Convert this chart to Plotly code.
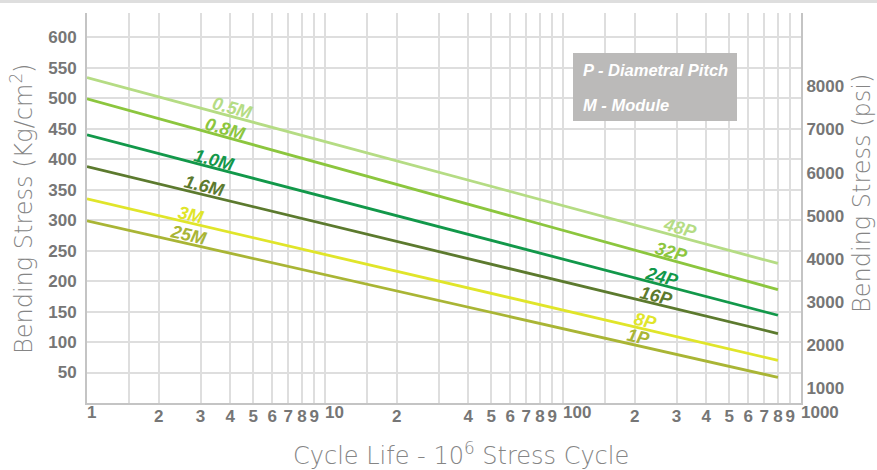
import math
import plotly.graph_objects as go

# ---- data -----------------------------------------------------------------
cycle_start = 1
cycle_end = 800
series_module = ["0.5M", "0.8M", "1.0M", "1.6M", "3M", "25M"]
series_pitch = ["48P", "32P", "24P", "16P", "8P", "1P"]
stress_at_start = [534, 499, 440, 388, 335, 299]   # kg/cm² at 1 x 10^6 cycles
stress_at_end = [229, 186, 144, 114, 70, 42]       # kg/cm² at 800 x 10^6 cycles
series_colors = ["#b5dc84", "#8cc63e", "#12984a", "#5c7a2e", "#e0e52a", "#a9b535"]

# where along each line its module / pitch label sits (cycle life, 10^6)
module_label_at = [4.0, 3.74, 3.36, 3.05, 2.69, 2.62]
pitch_label_at = [303, 279, 256, 242, 217, 204]

kg_ticks = [50, 100, 150, 200, 250, 300, 350, 400, 450, 500, 550, 600]
psi_ticks = [1000, 2000, 3000, 4000, 5000, 6000, 7000, 8000]

# minor cycle gridlines and their labels (decade starts are labelled separately)
grid_cycles = [1.5, 2, 3, 4, 5, 6, 7, 8, 9,
               10, 15, 20, 30, 40, 50, 60, 70, 80, 90,
               100, 150, 200, 300, 400, 500, 600, 700, 800, 900]
grid_labels = ["", "2", "3", "4", "5", "6", "7", "8", "9",
               "", "", "2", "", "4", "5", "6", "7", "8", "9",
               "", "", "2", "3", "4", "5", "6", "7", "8", "9"]
decade_cycles = [1, 10, 100, 1000]
decade_labels = ["1", "10", "100", "1000"]

# ---- layout geometry ------------------------------------------------------
W, H = 877, 470
M_L, M_R, M_T, M_B = 87, 76, 13, 67
PLOT_W = W - M_L - M_R
PLOT_H = H - M_T - M_B
KG_RANGE = [0, 640]
PSI_RANGE = [665, 9695]
X_LOG_RANGE = [0, 3]


def paper_x(px):
    return (px - M_L) / PLOT_W


def paper_y(py):
    return (H - M_B - py) / PLOT_H


GRID = "#dedede"
AXIS_LINE = "#c4c4c4"
TICK_FONT = dict(family="Liberation Sans, Arial, sans-serif", size=17,
                 color="#767676", weight="bold")
TITLE_FONT = dict(family="DejaVu Sans, sans-serif", size=24, color="#858585",
                  weight=200)

fig = go.Figure()

for name, y0, y1, col in zip(series_module, stress_at_start, stress_at_end,
                             series_colors):
    fig.add_trace(go.Scatter(
        x=[cycle_start, cycle_end], y=[y0, y1], mode="lines", name=name,
        line=dict(color=col, width=2.8), hoverinfo="x+y+name",
        showlegend=False))

# invisible carrier for the decade-label axis
fig.add_trace(go.Scatter(x=[cycle_start], y=[None], xaxis="x2", yaxis="y",
                         showlegend=False, hoverinfo="skip"))
# invisible carrier for the psi axis
fig.add_trace(go.Scatter(x=[cycle_start], y=[None], xaxis="x", yaxis="y2",
                         showlegend=False, hoverinfo="skip"))

# ---- line labels ------------------------------------------------------------
px_per_decade = PLOT_W / (X_LOG_RANGE[1] - X_LOG_RANGE[0])
px_per_kg = PLOT_H / (KG_RANGE[1] - KG_RANGE[0])
span = math.log10(cycle_end / cycle_start)


def on_line(y0, y1, c):
    t = math.log10(c / cycle_start) / span
    return y0 + (y1 - y0) * t


annotations = []
for names, places in ((series_module, module_label_at),
                      (series_pitch, pitch_label_at)):
    for name, at, y0, y1, col in zip(names, places, stress_at_start,
                                     stress_at_end, series_colors):
        angle = math.degrees(math.atan2((y0 - y1) * px_per_kg,
                                        span * px_per_decade))
        annotations.append(dict(
            x=math.log10(at), y=on_line(y0, y1, at), xref="x", yref="y",
            text=name, showarrow=False, textangle=angle,
            xanchor="center", yanchor="middle", yshift=8, xshift=2,
            font=dict(family="Liberation Sans, Arial, sans-serif", size=18,
                      color=col, weight="bold", style="italic")))

# key box text
key_font = dict(family="Liberation Sans, Arial, sans-serif", size=16.5,
                color="#ffffff", weight="bold", style="italic")
annotations.append(dict(x=paper_x(581), y=paper_y(69.5), xref="paper",
                        yref="paper", text="P - Diametral Pitch",
                        showarrow=False, xanchor="left", yanchor="middle",
                        font=key_font))
annotations.append(dict(x=paper_x(581), y=paper_y(105), xref="paper",
                        yref="paper", text="M - Module", showarrow=False,
                        xanchor="left", yanchor="middle", font=key_font))

# axis titles
annotations.append(dict(x=paper_x(22), y=paper_y(209), xref="paper",
                        yref="paper", text="Bending Stress (Kg/cm<sup>2</sup>)",
                        showarrow=False, textangle=-90, xanchor="center",
                        yanchor="middle", font=TITLE_FONT))
annotations.append(dict(x=paper_x(862), y=paper_y(193), xref="paper",
                        yref="paper", text="Bending Stress (psi)",
                        showarrow=False, textangle=-90, xanchor="center",
                        yanchor="middle", font=TITLE_FONT))
annotations.append(dict(x=paper_x(461), y=paper_y(454), xref="paper",
                        yref="paper",
                        text="Cycle Life - 10<sup>6</sup> Stress Cycle",
                        showarrow=False, xanchor="center", yanchor="middle",
                        font=TITLE_FONT))

shapes = [
    # thin band across the very top of the page
    dict(type="rect", xref="paper", yref="paper",
         x0=paper_x(0), x1=paper_x(W), y0=paper_y(3), y1=paper_y(0),
         fillcolor="#dedede", line=dict(width=0), layer="below"),
    # key box
    dict(type="rect", xref="paper", yref="paper",
         x0=paper_x(573), x1=paper_x(737), y0=paper_y(121), y1=paper_y(53),
         fillcolor="#bbbab9", line=dict(width=0), layer="above"),
]

fig.update_layout(
    width=W, height=H,
    margin=dict(l=M_L, r=M_R, t=M_T, b=M_B, pad=0),
    paper_bgcolor="#ffffff", plot_bgcolor="#ffffff",
    showlegend=False,
    xaxis=dict(type="log", range=X_LOG_RANGE, tickmode="array",
               tickvals=grid_cycles, ticktext=grid_labels, tickangle=0,
               showgrid=True, gridcolor=GRID, gridwidth=1.5,
               showline=True, linecolor=AXIS_LINE, linewidth=2,
               zeroline=False, ticks="", ticklabelstandoff=-3,
               tickfont=TICK_FONT, fixedrange=True),
    xaxis2=dict(type="log", range=X_LOG_RANGE, overlaying="x", matches="x",
                anchor="y", side="bottom", tickmode="array",
                tickvals=decade_cycles, ticktext=decade_labels, tickangle=0,
                ticklabelposition="outside right", showgrid=False,
                showline=False, zeroline=False, ticks="",
                ticklabelstandoff=-3, tickfont=TICK_FONT),
    yaxis=dict(range=KG_RANGE, tickmode="array", tickvals=kg_ticks,
               showgrid=True, gridcolor=GRID, gridwidth=1.5,
               showline=True, linecolor=AXIS_LINE, linewidth=2,
               zeroline=False, ticks="", ticklabelstandoff=5,
               tickfont=TICK_FONT, fixedrange=True),
    yaxis2=dict(range=PSI_RANGE, overlaying="y", side="right", anchor="x",
                tickmode="array", tickvals=psi_ticks, showgrid=False,
                showline=True, linecolor=AXIS_LINE, linewidth=2,
                zeroline=False, ticks="", ticklabelstandoff=0,
                tickfont=TICK_FONT, fixedrange=True),
    annotations=annotations,
    shapes=shapes,
)

fig.write_html("out.html")
